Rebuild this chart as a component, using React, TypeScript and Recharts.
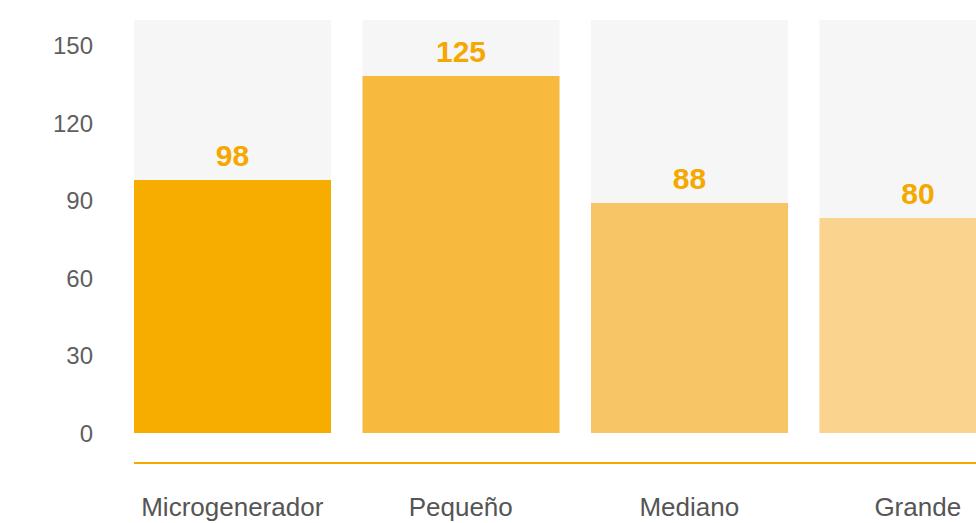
import React from 'react';
import { BarChart, Bar, XAxis, YAxis, Cell, LabelList } from 'recharts';

// values
const categories = ['Microgenerador', 'Pequeño', 'Mediano', 'Grande'];
const barValues = [98, 138.3, 89.1, 83.3];
const labelValues = [98, 125, 88, 80];
const barColors = ['#F7AC00', '#F8B93F', '#F8C566', '#FAD48E'];
const yTicks = [0, 30, 60, 90, 120, 150];

const data = categories.map((name, i) => ({
  name,
  value: barValues[i],
  label: labelValues[i],
}));

const font = '"Liberation Sans", Arial, Helvetica, sans-serif';

export default function App() {
  return (
    <div
      style={{
        position: 'fixed',
        left: 0,
        top: 0,
        width: 976,
        height: 523,
        overflow: 'hidden',
        background: '#fff',
        fontFamily: font,
      }}
    >
      <BarChart
        width={1032}
        height={523}
        data={data}
        margin={{ top: 20, right: 0, left: 0, bottom: 0 }}
        barSize={197}
      >
        <YAxis
          width={118}
          domain={[0, 160]}
          ticks={yTicks}
          axisLine={false}
          tickLine={false}
          tickSize={0}
          tickMargin={25}
          tick={{ fill: '#5f5f5f', fontSize: 24, fontFamily: font }}
        />
        <XAxis
          dataKey="name"
          height={90}
          tickLine={false}
          tickSize={0}
          tickMargin={65}
          axisLine={{ stroke: '#F7A800', strokeWidth: 2, transform: 'translate(16,30)' }}
          tick={{ fill: '#555555', fontSize: 26, fontFamily: font }}
        />
        <Bar dataKey="value" background={{ fill: '#F6F6F6' }} isAnimationActive={false}>
          {data.map((d, i) => (
            <Cell key={d.name} fill={barColors[i]} />
          ))}
          <LabelList
            dataKey="label"
            position="top"
            offset={14}
            fill="#F5A800"
            style={{ fontSize: 30, fontWeight: 700, fontFamily: font }}
          />
        </Bar>
      </BarChart>
    </div>
  );
}
